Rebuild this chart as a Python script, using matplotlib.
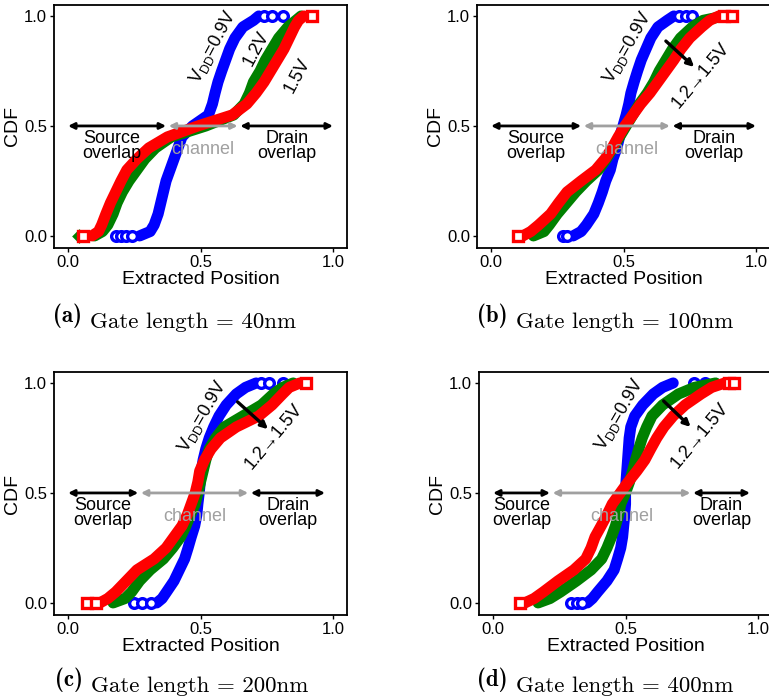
import matplotlib
matplotlib.use("Agg")
import matplotlib.pyplot as plt

plt.rcParams["font.family"] = ["Liberation Sans", "DejaVu Sans"]

CDF = [0, 0.02, 0.05, 0.1, 0.15, 0.2, 0.25, 0.3, 0.35, 0.4, 0.45, 0.5,
       0.55, 0.6, 0.65, 0.7, 0.75, 0.8, 0.85, 0.9, 0.95, 0.98, 1.0]

TAGS = ["a", "b", "c", "d"]
GATE_LENGTHS = ["40nm", "100nm", "200nm", "400nm"]
VDD = ["0.9V", "1.2V", "1.5V"]

# gate length 40nm
L40_V09 = [0.27, 0.31, 0.325, 0.34, 0.35, 0.36, 0.37, 0.385, 0.40, 0.415, 0.43, 0.47,
           0.53, 0.545, 0.555, 0.566, 0.58, 0.595, 0.61, 0.63, 0.66, 0.70, 0.72]
L40_V12 = [0.10, 0.13, 0.15, 0.17, 0.185, 0.205, 0.23, 0.26, 0.29, 0.33, 0.39, 0.52,
           0.625, 0.665, 0.685, 0.70, 0.725, 0.745, 0.77, 0.795, 0.83, 0.86, 0.88]
L40_V15 = [0.09, 0.115, 0.127, 0.143, 0.16, 0.18, 0.20, 0.222, 0.26, 0.305, 0.375, 0.49,
           0.62, 0.675, 0.71, 0.74, 0.765, 0.79, 0.815, 0.835, 0.855, 0.87, 0.89]
# gate length 100nm
L100_V09 = [0.31, 0.34, 0.36, 0.388, 0.405, 0.42, 0.433, 0.45, 0.46, 0.475, 0.485, 0.498,
            0.51, 0.52, 0.528, 0.54, 0.553, 0.567, 0.585, 0.603, 0.63, 0.665, 0.69]
L100_V12 = [0.16, 0.20, 0.22, 0.25, 0.285, 0.32, 0.36, 0.405, 0.435, 0.46, 0.485, 0.51,
            0.535, 0.56, 0.59, 0.615, 0.635, 0.66, 0.685, 0.715, 0.76, 0.80, 0.88]
L100_V15 = [0.12, 0.15, 0.18, 0.225, 0.255, 0.287, 0.34, 0.395, 0.43, 0.457, 0.48, 0.505,
            0.535, 0.565, 0.60, 0.63, 0.66, 0.69, 0.717, 0.75, 0.795, 0.825, 0.86]
# gate length 200nm
L200_V09 = [0.335, 0.355, 0.372, 0.40, 0.42, 0.44, 0.453, 0.465, 0.478, 0.486, 0.49, 0.495,
            0.499, 0.503, 0.51, 0.52, 0.533, 0.55, 0.57, 0.597, 0.635, 0.67, 0.71]
L200_V12 = [0.17, 0.215, 0.24, 0.27, 0.31, 0.36, 0.395, 0.425, 0.445, 0.462, 0.48, 0.49,
            0.50, 0.51, 0.52, 0.533, 0.557, 0.59, 0.66, 0.73, 0.775, 0.81, 0.85]
L200_V15 = [0.12, 0.15, 0.18, 0.22, 0.26, 0.325, 0.37, 0.40, 0.43, 0.45, 0.465, 0.48,
            0.49, 0.497, 0.515, 0.54, 0.575, 0.635, 0.72, 0.77, 0.81, 0.835, 0.875]
# gate length 400nm
L400_V09 = [0.356, 0.375, 0.395, 0.43, 0.457, 0.47, 0.482, 0.489, 0.493, 0.497, 0.50, 0.50,
            0.502, 0.505, 0.508, 0.511, 0.514, 0.52, 0.535, 0.565, 0.605, 0.64, 0.68]
L400_V12 = [0.17, 0.215, 0.255, 0.315, 0.37, 0.41, 0.43, 0.447, 0.462, 0.474, 0.482, 0.50,
            0.515, 0.527, 0.538, 0.55, 0.563, 0.58, 0.60, 0.64, 0.70, 0.76, 0.84]
L400_V15 = [0.12, 0.155, 0.19, 0.245, 0.305, 0.35, 0.37, 0.385, 0.408, 0.43, 0.45, 0.48,
            0.51, 0.543, 0.573, 0.595, 0.618, 0.645, 0.68, 0.725, 0.785, 0.825, 0.875]

# isolated samples at the tails (cdf = 0 and cdf = 1)
LOW_TAILS = [[[0.18, 0.20, 0.22, 0.24], [0.04], [0.057]],
             [[0.27, 0.285], [], [0.10]],
             [[0.25, 0.28, 0.315], [], [0.07, 0.107]],
             [[0.293, 0.318, 0.337], [], [0.10]]]
HIGH_TAILS = [[[0.74, 0.77, 0.81], [], [0.92]],
              [[0.71, 0.735, 0.76], [], [0.88, 0.91]],
              [[0.73, 0.76, 0.81], [], [0.90]],
              [[0.76, 0.80], [], [0.89, 0.91]]]

CURVES = [[L40_V09, L40_V12, L40_V15],
          [L100_V09, L100_V12, L100_V15],
          [L200_V09, L200_V12, L200_V15],
          [L400_V09, L400_V12, L400_V15]]

# region boundaries on the position axis
SOURCE_END = [0.37, 0.34, 0.265, 0.215]
DRAIN_START = [0.65, 0.685, 0.69, 0.755]
DRAIN_END = [1.0, 1.0, 0.97, 0.97]

COLORS = ["#0000ff", "#008000", "#ff0000"]
MARKERS = ["o", "D", "s"]
GREY = "#a0a0a0"

W, H = 769, 698
AX_BOX = [(54, 5), (477, 5), (54, 372), (479, 372)]   # px: left, top
AX_W, AX_H = 293, 243
CAPTION_X = [53, 477, 55, 477]     # px, left edge of "(x)"
CAPTION_Y = [322, 322, 686, 686]   # px, baseline

fig = plt.figure(figsize=(W / 100, H / 100), dpi=100)

for i in range(4):
    left, top = AX_BOX[i]
    ax = fig.add_axes([left / W, 1 - (top + AX_H) / H, AX_W / W, AX_H / H])

    for j in range(3):
        ax.plot(CURVES[i][j], CDF, color=COLORS[j], lw=8,
                solid_capstyle="round", solid_joinstyle="round", zorder=2 + j)
        ms = 5.5 if MARKERS[j] == "D" else 7
        for xs, level in ((LOW_TAILS[i][j], 0.0), (HIGH_TAILS[i][j], 1.0)):
            if xs:
                ax.plot(xs, [level] * len(xs), ls="none", marker=MARKERS[j], ms=ms,
                        mfc="white", mec=COLORS[j], mew=2.4, zorder=2 + j)

    # region arrows
    arrow = dict(arrowstyle="<|-|>", lw=2, mutation_scale=9, shrinkA=0, shrinkB=0)
    ax.annotate("", xy=(SOURCE_END[i], 0.5), xytext=(0.0, 0.5),
                arrowprops=dict(arrow, color="black"), zorder=6)
    ax.annotate("", xy=(DRAIN_START[i] - 0.01, 0.5), xytext=(SOURCE_END[i] + 0.01, 0.5),
                arrowprops=dict(arrow, color=GREY), zorder=6)
    ax.annotate("", xy=(DRAIN_END[i], 0.5), xytext=(DRAIN_START[i], 0.5),
                arrowprops=dict(arrow, color="black"), zorder=6)

    ax.text(SOURCE_END[i] / 2 - 0.02 * (i == 0), 0.41, "Source\noverlap", ha="center",
            va="center", fontsize=13, linespacing=0.85, zorder=7)
    ax.text((SOURCE_END[i] + DRAIN_START[i]) / 2, 0.395, "channel", ha="center",
            va="center", fontsize=13, color=GREY, zorder=7)
    ax.text((DRAIN_START[i] + DRAIN_END[i]) / 2, 0.41, "Drain\noverlap", ha="center",
            va="center", fontsize=13, linespacing=0.85, zorder=7)

    vdd_label = r"V$_{\mathregular{DD}}$=" + VDD[0]
    if i == 0:
        ax.text(0.547, 0.86, vdd_label, rotation=62, ha="center", va="center",
                fontsize=13, zorder=7)
        ax.text(0.71, 0.85, VDD[1], rotation=62, ha="center", va="center",
                fontsize=13, zorder=7)
        ax.text(0.864, 0.73, VDD[2], rotation=62, ha="center", va="center",
                fontsize=13, zorder=7)
    else:
        vdd_xy = [None, (0.515, 0.86), (0.506, 0.85), (0.477, 0.86)][i]
        arr = [None, ((0.66, 0.886), (0.767, 0.768)),
               ((0.64, 0.914), (0.755, 0.79)),
               ((0.644, 0.918), (0.746, 0.80))][i]
        sweep_xy = [None, (0.79, 0.73), (0.777, 0.755), (0.78, 0.76)][i]
        ax.text(*vdd_xy, vdd_label, rotation=60, ha="center", va="center",
                fontsize=13, zorder=7)
        ax.annotate("", xy=arr[1], xytext=arr[0],
                    arrowprops=dict(arrowstyle="-|>", color="black", lw=2.4,
                                    mutation_scale=10, shrinkA=0, shrinkB=0), zorder=7)
        ax.text(*sweep_xy, "1.2" + "\u2192" + VDD[2], rotation=50, ha="center",
                va="center", fontsize=13, zorder=7)

    ax.set_xlim(-0.053, 1.053)
    ax.set_ylim(-0.055, 1.05)
    ax.set_xticks([0.0, 0.5, 1.0])
    ax.set_yticks([0.0, 0.5, 1.0])
    ax.set_xticklabels(["0.0", "0.5", "1.0"])
    ax.set_yticklabels(["0.0", "0.5", "1.0"])
    ax.tick_params(direction="out", length=3, width=1, labelsize=12, pad=2)
    for spine in ax.spines.values():
        spine.set_linewidth(1.3)
    ax.set_xlabel("Extracted Position", fontsize=14, labelpad=1)
    ax.set_ylabel("CDF", fontsize=14, labelpad=2)

    # sub-figure caption: bold tag then roman text
    tag = fig.text(CAPTION_X[i] / W, 1 - CAPTION_Y[i] / H, "(" + TAGS[i] + ")",
                   family="cmb10", fontsize=16.5, ha="left", va="baseline")
    ax.annotate("Gate length = " + GATE_LENGTHS[i], xy=(1, 0), xycoords=tag,
                xytext=(6, 0), textcoords="offset points", family="cmr10",
                fontsize=16.5, ha="left", va="baseline", annotation_clip=False)

fig.savefig("out.png", dpi=100)
